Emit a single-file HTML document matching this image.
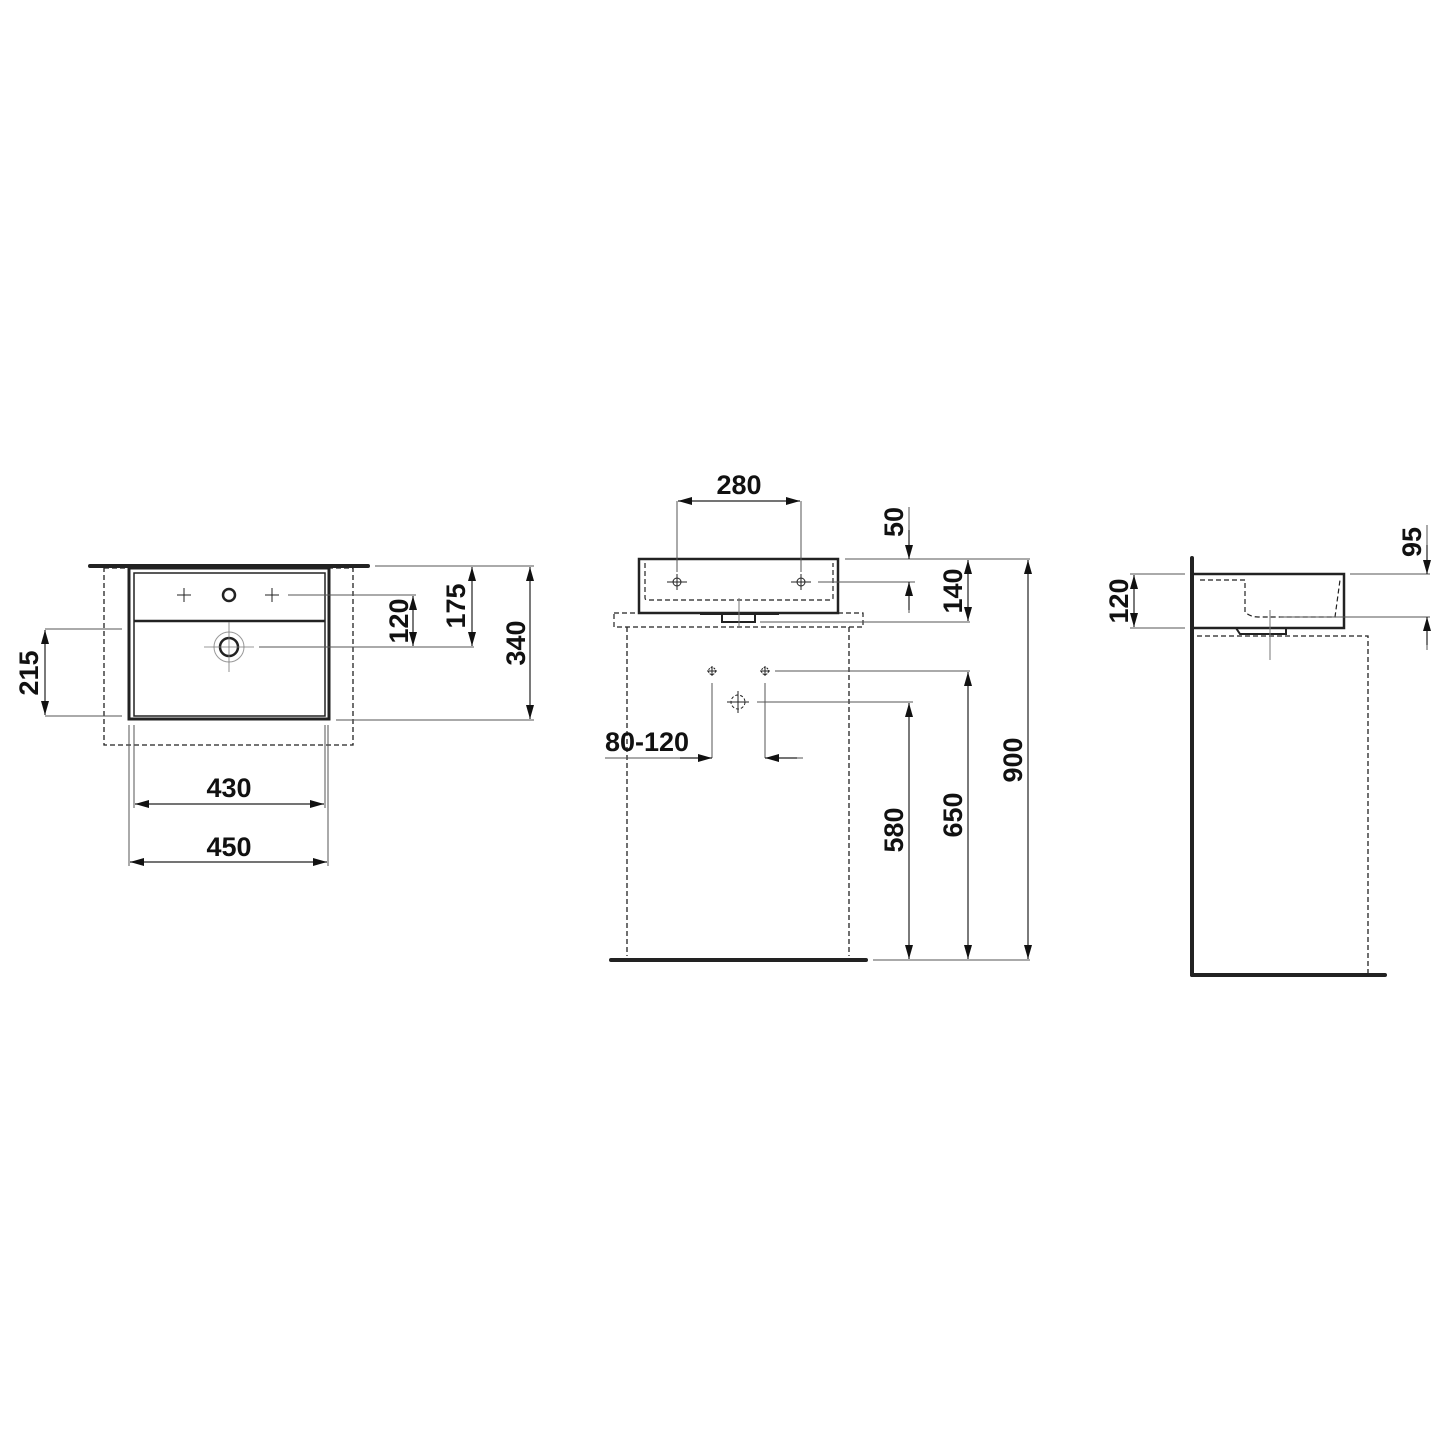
<!DOCTYPE html>
<html><head><meta charset="utf-8"><style>
html,body{margin:0;padding:0;background:#fff}
svg{display:block}
text{font-family:"Liberation Sans Narrow","Liberation Sans",sans-serif;font-weight:bold;font-size:27px;fill:#111}
</style></head><body>
<svg width="1445" height="1445" viewBox="0 0 1445 1445" xmlns="http://www.w3.org/2000/svg">
<defs>
<marker id="a" viewBox="0 0 14 8" refX="14" refY="4" markerWidth="14" markerHeight="8" markerUnits="userSpaceOnUse" orient="auto-start-reverse"><path d="M0,0 L14,4 L0,8 Z" fill="#111"/></marker>
</defs>
<g fill="none" stroke="#222">
<!-- LEFT VIEW -->
<line x1="90" y1="566" x2="368" y2="566" stroke-width="4" stroke-linecap="round"/>
<rect x="129" y="568" width="200" height="151" stroke-width="3"/>
<rect x="134" y="573" width="191" height="143" stroke-width="1.5"/>
<line x1="134" y1="621" x2="325" y2="621" stroke-width="2.5"/>
<rect x="104" y="568" width="249" height="177" stroke-dasharray="5,3" stroke-width="1.3"/>
<circle cx="229" cy="595" r="6" stroke-width="2.5"/>
<path d="M177,595h14M184,588v14M265,595h14M272,588v14" stroke-width="1"/>
<circle cx="229" cy="647" r="9" stroke-width="2.5"/>
<circle cx="229" cy="647" r="15" stroke-width="1" stroke="#999"/>
<path d="M204,647h50M229,622v50" stroke-width="0.8" stroke="#777"/>
<g stroke-width="1" stroke="#555">
<line x1="288" y1="595" x2="416" y2="595"/>
<line x1="259" y1="647" x2="474" y2="647"/>
<line x1="375" y1="566" x2="534" y2="566"/>
<line x1="336" y1="720" x2="534" y2="720"/>
<line x1="45" y1="629" x2="122" y2="629"/>
<line x1="45" y1="716" x2="122" y2="716"/>
<line x1="134" y1="725" x2="134" y2="808"/>
<line x1="325" y1="725" x2="325" y2="808"/>
<line x1="129" y1="725" x2="129" y2="866"/>
<line x1="328" y1="725" x2="328" y2="866"/>
</g>
<g stroke-width="1.2" stroke="#222" marker-start="url(#a)" marker-end="url(#a)">
<line x1="413" y1="596" x2="413" y2="646"/>
<line x1="472" y1="567" x2="472" y2="646"/>
<line x1="530" y1="567" x2="530" y2="719"/>
<line x1="45" y1="630" x2="45" y2="715"/>
<line x1="135" y1="804" x2="324" y2="804"/>
<line x1="130" y1="862" x2="327" y2="862"/>
</g>
<!-- MIDDLE VIEW -->
<rect x="639" y="559" width="199" height="54" stroke-width="2.5"/>
<path d="M645,563 V598 Q645,600 648,600 H830 Q833,600 833,598 V563" stroke-dasharray="5,3" stroke-width="1.2"/>
<rect x="614" y="613" width="249" height="14" stroke-dasharray="5,3" stroke-width="1.2"/>
<rect x="722" y="613" width="33" height="9" stroke-width="2"/>
<line x1="700" y1="614" x2="779" y2="614" stroke-width="2"/>
<g stroke-width="1">
<circle cx="677" cy="582" r="4"/><path d="M667,582h20M677,574v16"/>
<circle cx="801" cy="582" r="4"/><path d="M791,582h20M801,574v16"/>
<path d="M739,598v30" stroke="#777"/>
</g>
<line x1="627" y1="627" x2="627" y2="956" stroke-dasharray="5,3" stroke-width="1.3"/>
<line x1="849" y1="627" x2="849" y2="956" stroke-dasharray="5,3" stroke-width="1.3"/>
<line x1="611" y1="960" x2="866" y2="960" stroke-width="4" stroke-linecap="round"/>
<g stroke-width="1">
<circle cx="712" cy="671" r="3.5" stroke-dasharray="2,1"/><path d="M707,671h10M712,666v10"/>
<circle cx="765" cy="671" r="3.5" stroke-dasharray="2,1"/><path d="M760,671h10M765,666v10"/>
<circle cx="738" cy="702" r="7" stroke-dasharray="3,2"/><path d="M727,702h22M738,691v22"/>
</g>
<g stroke-width="1" stroke="#555">
<line x1="677" y1="501" x2="677" y2="572"/>
<line x1="801" y1="501" x2="801" y2="572"/>
<line x1="845" y1="559" x2="1030" y2="559"/>
<line x1="818" y1="582" x2="915" y2="582"/>
<line x1="760" y1="622" x2="970" y2="622"/>
<line x1="775" y1="671" x2="970" y2="671"/>
<line x1="757" y1="702" x2="913" y2="702"/>
<line x1="712" y1="683" x2="712" y2="758"/>
<line x1="765" y1="683" x2="765" y2="758"/>
<line x1="605" y1="758" x2="712" y2="758"/>
<line x1="765" y1="758" x2="803" y2="758"/>
<line x1="873" y1="960" x2="1030" y2="960"/>
<line x1="909" y1="507" x2="909" y2="545"/>
<line x1="909" y1="596" x2="909" y2="613"/>
</g>
<g stroke-width="1.2" marker-start="url(#a)" marker-end="url(#a)">
<line x1="678" y1="501" x2="800" y2="501"/>
<line x1="968" y1="560" x2="968" y2="621"/>
<line x1="909" y1="703" x2="909" y2="959"/>
<line x1="968" y1="672" x2="968" y2="959"/>
<line x1="1028" y1="560" x2="1028" y2="959"/>
</g>
<g stroke-width="1.2" marker-end="url(#a)">
<line x1="909" y1="530" x2="909" y2="559"/>
<line x1="909" y1="610" x2="909" y2="582"/>
<line x1="680" y1="758" x2="712" y2="758"/>
<line x1="797" y1="758" x2="765" y2="758"/>
</g>
<!-- RIGHT VIEW -->
<line x1="1192" y1="558" x2="1192" y2="975" stroke-width="4" stroke-linecap="round"/>
<line x1="1192" y1="975" x2="1385" y2="975" stroke-width="4" stroke-linecap="round"/>
<path d="M1194,574 H1344 V628 H1194" stroke-width="2.5"/>
<path d="M1200,580 H1245 V612 Q1250,617 1258,617 H1335 L1340,580" stroke-dasharray="5,3" stroke-width="1.2"/>
<path d="M1236,628 l4,6 h46 v-6" stroke-width="2"/>
<path d="M1197,636 H1368 V975" stroke-dasharray="5,3" stroke-width="1.3"/>
<path d="M1270,610v50" stroke="#777" stroke-width="1"/>
<g stroke-width="1" stroke="#555">
<line x1="1130" y1="574" x2="1185" y2="574"/>
<line x1="1130" y1="628" x2="1185" y2="628"/>
<line x1="1350" y1="574" x2="1430" y2="574"/>
<line x1="1280" y1="617" x2="1430" y2="617"/>
<line x1="1427" y1="525" x2="1427" y2="560"/>
<line x1="1427" y1="630" x2="1427" y2="650"/>
</g>
<g stroke-width="1.2" marker-end="url(#a)">
<line x1="1427" y1="545" x2="1427" y2="574"/>
<line x1="1427" y1="645" x2="1427" y2="617"/>
</g>
<line x1="1134" y1="575" x2="1134" y2="627" stroke-width="1.2" marker-start="url(#a)" marker-end="url(#a)"/>
</g>
<!-- TEXT -->
<g text-anchor="middle">
<text x="229" y="797">430</text>
<text x="229" y="856">450</text>
<text x="739" y="494">280</text>
<text x="647" y="751">80-120</text>
<text transform="translate(408,621) rotate(-90)">120</text>
<text transform="translate(465,606) rotate(-90)">175</text>
<text transform="translate(525,643) rotate(-90)">340</text>
<text transform="translate(38,673) rotate(-90)">215</text>
<text transform="translate(903,522) rotate(-90)">50</text>
<text transform="translate(962,591) rotate(-90)">140</text>
<text transform="translate(903,830) rotate(-90)">580</text>
<text transform="translate(962,815) rotate(-90)">650</text>
<text transform="translate(1022,760) rotate(-90)">900</text>
<text transform="translate(1128,601) rotate(-90)">120</text>
<text transform="translate(1421,542) rotate(-90)">95</text>
</g>
</svg>
</body></html>
